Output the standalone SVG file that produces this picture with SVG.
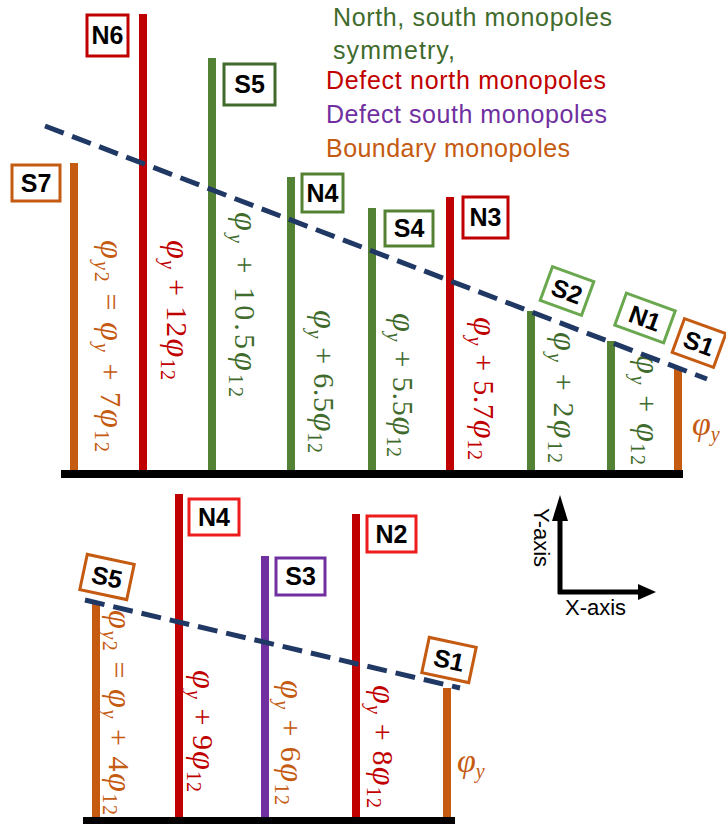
<svg xmlns="http://www.w3.org/2000/svg" width="726" height="824" viewBox="0 0 726 824">
<defs>
<style>
.f{font-family:"Liberation Serif","DejaVu Serif",serif;font-size:30px}
.i{font-style:italic}
.p{font-style:italic;font-size:34px}
.s{font-size:20px}
.lab{font-family:"Liberation Sans",Arial,sans-serif;font-weight:bold;font-size:25px;text-anchor:middle;fill:#000}
.box{fill:#fff;stroke-width:3}
.leg{font-family:"Liberation Sans",Arial,sans-serif;font-size:25px}
.dash{fill:none;stroke:#203864;stroke-width:5;stroke-dasharray:20 9}
.red{fill:#c00000}.grn{fill:#548235}.org{fill:#c55a11}.pur{fill:#7030a0}
.tr{fill:#c00000}.tg{fill:#3f6b2c}.to{fill:#c55a11}
</style>
</defs>
<rect width="726" height="824" fill="#fff"/>

<g id="legend">
<text class="leg" x="333" y="26" fill="#3f6b2c" textLength="279" lengthAdjust="spacing">North, south monopoles</text>
<text class="leg" x="333" y="59" fill="#3f6b2c" textLength="122" lengthAdjust="spacing">symmetry,</text>
<text class="leg" x="326" y="89" fill="#c00000" textLength="280" lengthAdjust="spacing">Defect north monopoles</text>
<text class="leg" x="326" y="123" fill="#7030a0" textLength="281" lengthAdjust="spacing">Defect south monopoles</text>
<text class="leg" x="326" y="157" fill="#c55a11" textLength="244" lengthAdjust="spacing">Boundary monopoles</text>
</g>

<rect id="top-base" x="61" y="470" width="622" height="8" fill="#000"/>
<rect id="bottom-base" x="83" y="817" width="372" height="8" fill="#000"/>

<g id="top-S7">
<rect class="org" x="70" y="163" width="8" height="307"/>
<rect class="box" x="12" y="165" width="48" height="36" stroke="#c55a11"/>
<text class="lab" x="36" y="192">S7</text>
<text class="f to" transform="translate(101,240) rotate(90)" textLength="212" lengthAdjust="spacing"><tspan class="p">φ</tspan><tspan class="s" dy="6"><tspan class="i">y</tspan>2</tspan><tspan dy="-6"> = </tspan><tspan class="p">φ</tspan><tspan class="s i" dy="6">y</tspan><tspan dy="-6"> + 7</tspan><tspan class="p">φ</tspan><tspan class="s" dy="6">12</tspan></text>
</g>

<g id="top-N6">
<rect class="red" x="139" y="14" width="8" height="456"/>
<rect class="box" x="87" y="15" width="41" height="41" stroke="#c00000"/>
<text class="lab" x="107.5" y="44">N6</text>
<text class="f tr" transform="translate(167,240) rotate(90)" textLength="140" lengthAdjust="spacing"><tspan class="p">φ</tspan><tspan class="s i" dy="6">y</tspan><tspan dy="-6"> + 12</tspan><tspan class="p">φ</tspan><tspan class="s" dy="6">12</tspan></text>
</g>

<g id="top-S5">
<rect class="grn" x="208" y="58" width="8" height="412"/>
<rect class="box" x="224" y="64" width="51" height="41" stroke="#3f6b2c"/>
<text class="lab" x="249.5" y="93">S5</text>
<text class="f tg" transform="translate(235,212) rotate(90)" textLength="185" lengthAdjust="spacing"><tspan class="p">φ</tspan><tspan class="s i" dy="6">y</tspan><tspan dy="-6"> + 10.5</tspan><tspan class="p">φ</tspan><tspan class="s" dy="6">12</tspan></text>
</g>

<g id="top-N4">
<rect class="grn" x="287" y="177" width="8" height="293"/>
<rect class="box" x="302" y="174" width="41" height="38" stroke="#548235"/>
<text class="lab" x="322.5" y="202">N4</text>
<text class="f tg" transform="translate(314,310) rotate(90)" textLength="143" lengthAdjust="spacing"><tspan class="p">φ</tspan><tspan class="s i" dy="6">y</tspan><tspan dy="-6"> + 6.5</tspan><tspan class="p">φ</tspan><tspan class="s" dy="6">12</tspan></text>
</g>

<g id="top-S4">
<rect class="grn" x="368" y="208" width="8" height="262"/>
<rect class="box" x="385" y="211" width="48" height="35" stroke="#548235"/>
<text class="lab" x="409" y="237">S4</text>
<text class="f tg" transform="translate(393,313) rotate(90)" textLength="144" lengthAdjust="spacing"><tspan class="p">φ</tspan><tspan class="s i" dy="6">y</tspan><tspan dy="-6"> + 5.5</tspan><tspan class="p">φ</tspan><tspan class="s" dy="6">12</tspan></text>
</g>

<g id="top-N3">
<rect class="red" x="446" y="197" width="8" height="273"/>
<rect class="box" x="463" y="197" width="45" height="41" stroke="#c00000"/>
<text class="lab" x="485.5" y="226">N3</text>
<text class="f tr" transform="translate(474,317) rotate(90)" textLength="143" lengthAdjust="spacing"><tspan class="p">φ</tspan><tspan class="s i" dy="6">y</tspan><tspan dy="-6"> + 5.7</tspan><tspan class="p">φ</tspan><tspan class="s" dy="6">12</tspan></text>
</g>

<g id="top-S2">
<rect class="grn" x="527" y="311" width="8" height="159"/>
<g transform="translate(567,291) rotate(20)">
<rect class="box" x="-22" y="-18" width="44" height="36" stroke="#6aa84f"/>
<text class="lab" x="0" y="9">S2</text>
</g>
<text class="f tg" transform="translate(554,332) rotate(90)" textLength="131" lengthAdjust="spacing"><tspan class="p">φ</tspan><tspan class="s i" dy="6">y</tspan><tspan dy="-6"> + 2</tspan><tspan class="p">φ</tspan><tspan class="s" dy="6">12</tspan></text>
</g>

<g id="top-N1">
<rect class="grn" x="607" y="341" width="8" height="129"/>
<g transform="translate(645,318) rotate(20)">
<rect class="box" x="-26" y="-17" width="52" height="34" stroke="#6aa84f"/>
<text class="lab" x="0" y="9">N1</text>
</g>
<text class="f tg" transform="translate(637,355) rotate(90)" textLength="110" lengthAdjust="spacing"><tspan class="p">φ</tspan><tspan class="s i" dy="6">y</tspan><tspan dy="-6"> + </tspan><tspan class="p">φ</tspan><tspan class="s" dy="6">12</tspan></text>
</g>

<g id="top-S1">
<rect class="org" x="674" y="368" width="8" height="102"/>
<g transform="translate(699,343) rotate(20)">
<rect class="box" x="-22" y="-18" width="44" height="36" stroke="#c55a11"/>
<text class="lab" x="0" y="9">S1</text>
</g>
<text class="f to" x="692" y="435"><tspan class="p">φ</tspan><tspan class="s i" dy="6">y</tspan></text>
</g>

<g id="bottom-S5">
<rect class="org" x="92" y="602" width="8" height="215"/>
<g transform="translate(107,577) rotate(12)">
<rect class="box" x="-24" y="-18" width="48" height="36" stroke="#c55a11"/>
<text class="lab" x="0" y="9">S5</text>
</g>
<text class="f to" transform="translate(109,610) rotate(90)" textLength="205" lengthAdjust="spacing"><tspan class="p">φ</tspan><tspan class="s" dy="6"><tspan class="i">y</tspan>2</tspan><tspan dy="-6"> = </tspan><tspan class="p">φ</tspan><tspan class="s i" dy="6">y</tspan><tspan dy="-6"> + 4</tspan><tspan class="p">φ</tspan><tspan class="s" dy="6">12</tspan></text>
</g>

<g id="bottom-N4">
<rect class="red" x="175" y="494" width="8" height="323"/>
<rect class="box" x="189" y="499" width="50" height="36" stroke="#ee1c1c"/>
<text class="lab" x="214" y="526">N4</text>
<text class="f tr" transform="translate(193,670) rotate(90)" textLength="122" lengthAdjust="spacing"><tspan class="p">φ</tspan><tspan class="s i" dy="6">y</tspan><tspan dy="-6"> + 9</tspan><tspan class="p">φ</tspan><tspan class="s" dy="6">12</tspan></text>
</g>

<g id="bottom-S3">
<rect class="pur" x="261" y="556" width="8" height="261"/>
<rect class="box" x="276" y="558" width="49" height="37" stroke="#7030a0"/>
<text class="lab" x="300.5" y="585">S3</text>
<text class="f to" transform="translate(281,680) rotate(90)" textLength="125" lengthAdjust="spacing"><tspan class="p">φ</tspan><tspan class="s i" dy="6">y</tspan><tspan dy="-6"> + 6</tspan><tspan class="p">φ</tspan><tspan class="s" dy="6">12</tspan></text>
</g>

<g id="bottom-N2">
<rect class="red" x="352" y="514" width="8" height="303"/>
<rect class="box" x="367" y="516" width="49" height="36" stroke="#ee1c1c"/>
<text class="lab" x="391.5" y="543">N2</text>
<text class="f tr" transform="translate(373,685) rotate(90)" textLength="123" lengthAdjust="spacing"><tspan class="p">φ</tspan><tspan class="s i" dy="6">y</tspan><tspan dy="-6"> + 8</tspan><tspan class="p">φ</tspan><tspan class="s" dy="6">12</tspan></text>
</g>

<g id="bottom-S1">
<rect class="org" x="443" y="688" width="8" height="129"/>
<g transform="translate(449,660) rotate(12)">
<rect class="box" x="-24" y="-18" width="48" height="36" stroke="#c55a11"/>
<text class="lab" x="0" y="9">S1</text>
</g>
<text class="f to" x="457" y="772"><tspan class="p">φ</tspan><tspan class="s i" dy="6">y</tspan></text>
</g>

<g id="connectors">
<line class="dash" x1="45" y1="126" x2="707" y2="379"/>
<line class="dash" x1="85" y1="600" x2="460" y2="688"/>
</g>

<g id="axes">
<line x1="560" y1="594" x2="560" y2="515" stroke="#000" stroke-width="5"/>
<polygon points="552,521 568,521 560,495" fill="#000"/>
<line x1="558" y1="592" x2="640" y2="592" stroke="#000" stroke-width="5"/>
<polygon points="638,584 638,600 656,592" fill="#000"/>
<text class="leg" transform="translate(534,508) rotate(90)" style="font-size:22px">Y-axis</text>
<text class="leg" x="565" y="615" style="font-size:22px">X-axis</text>
</g>
</svg>
